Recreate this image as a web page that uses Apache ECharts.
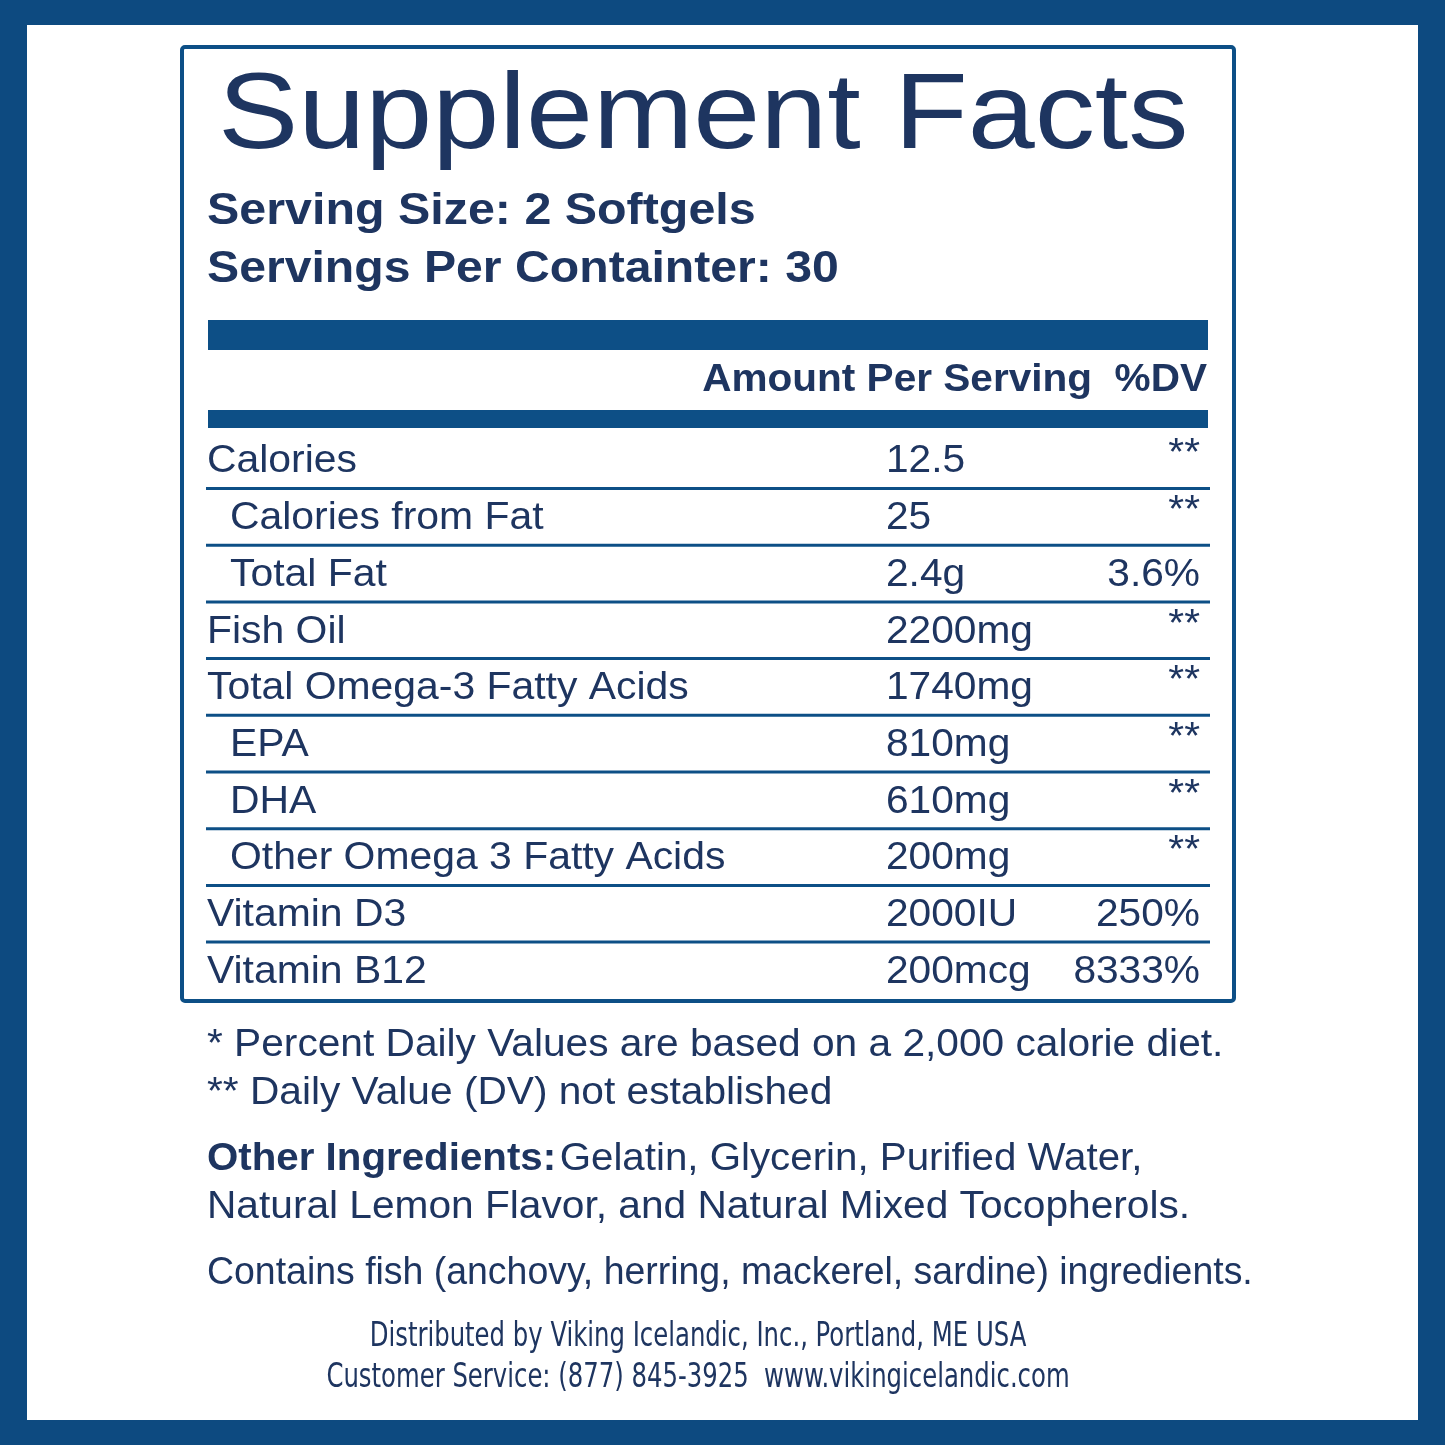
<!DOCTYPE html>
<html><head><meta charset="utf-8">
<script src="https://cdn.jsdelivr.net/npm/echarts@6/dist/echarts.min.js"></script>
<style>html,body{margin:0;padding:0;background:#0d4a80}#c{width:1445px;height:1445px}</style>
</head><body><div id="c"></div>
<script>
const nutrients = ["Calories","Calories from Fat","Total Fat","Fish Oil","Total Omega-3 Fatty Acids","EPA","DHA","Other Omega 3 Fatty Acids","Vitamin D3","Vitamin B12"];
const indented = [false,true,true,false,false,true,true,true,false,false];
const amounts = ["12.5","25","2.4g","2200mg","1740mg","810mg","610mg","200mg","2000IU","200mcg"];
const dailyValues = ["**","**","3.6%","**","**","**","**","**","250%","8333%"];
const footnotes = ["* Percent Daily Values are based on a 2,000 calorie diet.","** Daily Value (DV) not established"];
const distributor = ["Distributed by Viking Icelandic, Inc., Portland, ME USA","Customer Service: (877) 845-3925  www.vikingicelandic.com"];

const BLUE='#0d4f86', TXT='#1e3560', F='"Liberation Sans", Arial, sans-serif';
const g=[];
function T(x,y,style,sx){g.push({type:'text',x:x,y:y,scaleX:sx||1,style:Object.assign({fill:TXT,textVerticalAlign:'middle'},style)});}
g.push({type:'rect',shape:{x:27,y:25,width:1391,height:1395},style:{fill:'#fff'}});
g.push({type:'rect',shape:{x:182,y:47,width:1052,height:954,r:3},style:{fill:'none',stroke:BLUE,lineWidth:4}});
T(218,118,{text:'Supplement Facts',font:'108px '+F},1.115);
T(207,212,{text:'Serving Size: 2 Softgels',font:'bold 44px '+F},1.1);
T(207,270,{text:'Servings Per Containter: 30',font:'bold 44px '+F},1.095);
g.push({type:'rect',shape:{x:208,y:320,width:1000,height:30},style:{fill:BLUE}});
T(1207,380,{text:'Amount Per Serving  %DV',font:'bold 39px '+F,textAlign:'right'},1.04);
g.push({type:'rect',shape:{x:208,y:410,width:1000,height:18},style:{fill:BLUE}});
const y0=462, step=56.7;
nutrients.forEach((n,i)=>{
  const y=y0+i*step;
  T(indented[i]?230:207,y,{text:n,font:'38px '+F},1.076);
  T(886,y,{text:amounts[i],font:'38px '+F},1.07);
  const star=dailyValues[i]==='**';
  T(1200,star?y-7:y,{text:dailyValues[i],font:'38px '+F,textAlign:'right'},1.07);
  if(i<nutrients.length-1) g.push({type:'rect',shape:{x:206,y:y+25,width:1004,height:3},style:{fill:BLUE}});
});
footnotes.forEach((t,i)=>T(207,1046+i*48,{text:t,font:'38px '+F},1.07));
T(207,1160,{rich:{b:{font:'bold 38px '+F,fill:TXT},n:{font:'38px '+F,fill:TXT}},text:'{b|Other Ingredients:} {n|Gelatin, Glycerin, Purified Water,}'},1.06);
T(207,1208,{text:'Natural Lemon Flavor, and Natural Mixed Tocopherols.',font:'38px '+F},1.07);
T(207,1274,{text:'Contains fish (anchovy, herring, mackerel, sardine) ingredients.',font:'38px '+F},0.985);
distributor.forEach((t,i)=>g.push({type:'text',x:698,y:1337+i*41,scaleX:0.82,style:{text:t,font:'33px "Liberation Sans Narrow", "DejaVu Sans Condensed", sans-serif',fill:TXT,textAlign:'center',textVerticalAlign:'middle'}}));
const chart=echarts.init(document.getElementById('c'));
chart.setOption({animation:false,graphic:g});
</script></body></html>
